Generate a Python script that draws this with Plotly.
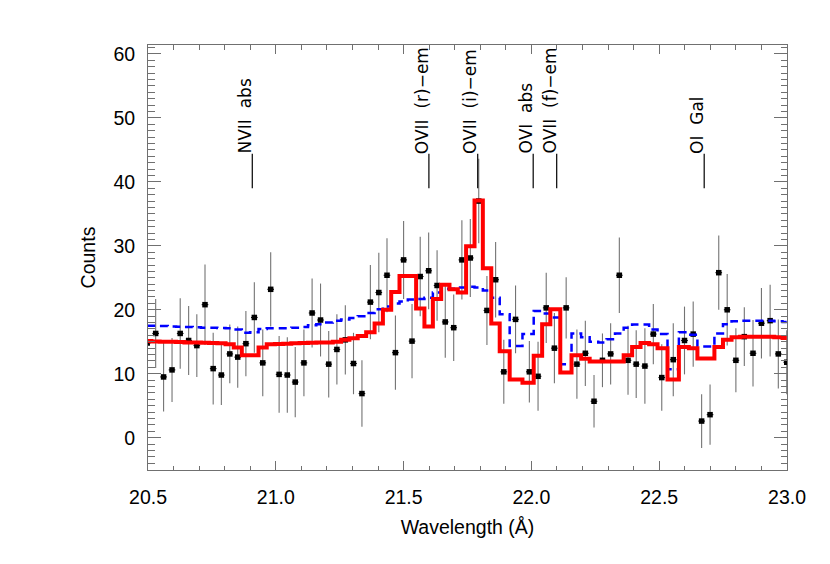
import plotly.graph_objects as go

# ---- data ----
wavelength = [20.497, 20.530, 20.561, 20.594, 20.626, 20.659, 20.691, 20.723, 20.755, 20.787,
              20.820, 20.851, 20.883, 20.916, 20.949, 20.980, 21.013, 21.045, 21.076, 21.110,
              21.142, 21.175, 21.207, 21.239, 21.272, 21.304, 21.337, 21.370, 21.403, 21.435,
              21.468, 21.500, 21.533, 21.565, 21.598, 21.631, 21.663, 21.696, 21.728, 21.761,
              21.794, 21.826, 21.860, 21.892, 21.938, 21.992, 22.026, 22.058, 22.090, 22.136,
              22.178, 22.211, 22.245, 22.278, 22.310, 22.344, 22.378, 22.410, 22.444, 22.477,
              22.510, 22.555, 22.599, 22.633, 22.666, 22.699, 22.733, 22.766, 22.800, 22.833,
              22.867, 22.900, 22.934, 22.966, 22.999]

counts = [14.8, 16.3, 9.5, 10.6, 16.3, 15.2, 14.4, 20.8, 10.8, 9.8,
          13.1, 12.6, 14.7, 18.8, 11.7, 23.2, 9.9, 9.8, 8.7, 11.7,
          19.5, 18.4, 11.5, 13.8, 15.3, 11.6, 6.9, 21.2, 22.7, 25.4,
          13.3, 27.8, 15.1, 25.2, 26.1, 23.8, 18.1, 17.2, 27.8, 28.1,
          37.0, 19.9, 24.7, 10.3, 18.5, 10.3, 9.6, 20.3, 14.0, 20.3,
          11.5, 13.2, 5.7, 12.1, 13.1, 25.4, 12.1, 11.5, 11.2, 16.2,
          9.4, 12.2, 15.2, 16.2, 2.6, 3.6, 25.8, 20.0, 12.1, 15.8,
          13.2, 17.9, 18.3, 13.1, 11.8]

count_err = [5.2, 5.4, 5.4, 5.0, 5.5, 5.4, 4.9, 6.3, 5.6, 4.7,
             4.6, 4.8, 5.1, 5.5, 5.2, 5.8, 6.0, 5.9, 5.5, 5.2,
             5.4, 5.7, 5.2, 5.5, 5.4, 4.8, 5.2, 5.8, 6.2, 5.8,
             5.8, 6.1, 5.8, 6.2, 6.0, 5.5, 5.6, 5.2, 6.2, 6.1,
             6.6, 5.4, 5.9, 5.0, 5.3, 4.8, 5.4, 5.5, 5.5, 4.8,
             5.4, 5.1, 4.1, 4.2, 4.8, 5.9, 5.4, 5.3, 5.9, 4.7,
             5.2, 5.7, 5.3, 5.1, 4.2, 4.7, 5.8, 5.6, 5.0, 4.6,
             5.2, 5.5, 5.6, 5.4, 5.0]

model_red = [15.1, 15.05, 15.0, 15.0, 14.95, 14.9, 14.9, 14.85, 14.8, 14.75,
             14.6, 14.1, 12.9, 12.9, 14.1, 14.6, 14.65, 14.7, 14.75, 14.8,
             14.85, 14.87, 14.9, 15.0, 15.3, 15.55, 15.9, 16.5, 17.85, 20.0,
             22.8, 25.3, 25.3, 20.2, 17.4, 21.7, 23.9, 23.2, 22.7, 29.95,
             37.1, 26.5, 17.85, 13.5, 9.1, 8.6, 12.8, 17.75, 20.1, 10.2,
             12.9, 12.35, 11.9, 11.9, 11.9, 11.9, 12.9, 14.2, 14.8, 14.6,
             14.0, 9.1, 14.2, 14.0, 12.4, 12.4, 14.2, 15.3, 15.7, 15.8,
             15.8, 15.8, 15.8, 15.7, 15.6]

model_blue = [17.5, 17.5, 17.45, 17.4, 17.35, 17.3, 17.25, 17.2, 17.2, 17.15,
              17.1, 16.9, 16.4, 16.5, 17.0, 17.1, 17.1, 17.1, 17.2, 17.3,
              17.6, 17.75, 18.0, 18.3, 18.5, 18.7, 19.0, 19.5, 20.1, 20.5,
              21.0, 21.3, 21.6, 21.7, 21.9, 22.7, 23.3, 23.3, 23.5, 23.6,
              23.5, 23.0, 21.9, 19.3, 14.35, 16.2, 19.8, 19.4, 18.8, 11.5,
              16.3, 15.7, 15.0, 14.9, 15.4, 16.3, 17.2, 17.7, 17.7, 16.9,
              16.2, 10.7, 16.5, 16.1, 14.25, 14.25, 16.3, 17.75, 18.2, 18.3,
              18.3, 18.3, 18.3, 18.2, 18.1]

line_wavelengths = [20.908, 21.599, 21.790, 22.007, 22.099, 22.676]
line_labels = ["NVII\u00a0 abs", "OVII\u00a0 (r)\u2212em", "OVII\u00a0 (i)\u2212em",
               "OVI\u00a0 abs", "OVII\u00a0 (f)\u2212em", "OI\u00a0 Gal"]
marker_y0, marker_y1 = 39.0, 44.4

x_ticks = [20.5, 21.0, 21.5, 22.0, 22.5, 23.0]
x_ticklabels = ["20.5", "21.0", "21.5", "22.0", "22.5", "23.0"]
y_ticks = [0, 10, 20, 30, 40, 50, 60]

# ---- figure ----
fig = go.Figure()

fig.add_trace(go.Scatter(
    x=wavelength, y=counts, mode="markers",
    marker=dict(symbol="square", size=5.5, color="black"),
    error_y=dict(type="data", array=count_err, color="rgb(115,115,115)", thickness=1.1, width=0),
    error_x=dict(type="constant", value=0.013, color="black", thickness=1, width=0),
    showlegend=False, hoverinfo="skip"))

fig.add_trace(go.Scatter(
    x=wavelength, y=model_blue, mode="lines", line_shape="hvh",
    line=dict(color="#0000ff", width=2.5, dash="8px,5px"),
    showlegend=False, hoverinfo="skip"))

fig.add_trace(go.Scatter(
    x=wavelength, y=model_red, mode="lines", line_shape="hvh",
    line=dict(color="#ff0000", width=4),
    showlegend=False, hoverinfo="skip"))

for wl, lab in zip(line_wavelengths, line_labels):
    fig.add_shape(type="line", x0=wl, x1=wl, y0=marker_y0, y1=marker_y1,
                  xref="x", yref="y", line=dict(color="black", width=1.2))
    fig.add_annotation(x=wl, y=marker_y1, xref="x", yref="y", text=lab,
                       textangle=-90, xanchor="right", yanchor="bottom",
                       showarrow=False, xshift=4, yshift=-1, borderpad=0,
                       font=dict(family="DejaVu Sans", size=17, color="black"))

axis_common = dict(showline=True, linecolor="#707070", linewidth=1, mirror="ticks",
                   ticks="inside", tickcolor="#707070", showgrid=False, zeroline=False,
                   tickfont=dict(family="Liberation Sans, Arial", size=19.5, color="black"))

fig.update_xaxes(range=[20.5, 23.0], tickvals=x_ticks, ticktext=x_ticklabels,
                 ticklen=9, tickwidth=1, ticklabelstandoff=10,
                 minor=dict(dtick=0.1, ticks="inside", ticklen=4.5, tickcolor="#707070", showgrid=False),
                 title=dict(text="Wavelength (Å)", standoff=12,
                            font=dict(family="Liberation Sans, Arial", size=19.5, color="black")),
                 **axis_common)
fig.update_yaxes(range=[-5.05, 61.4], tickvals=y_ticks,
                 ticklen=13, tickwidth=1, ticklabelstandoff=8,
                 minor=dict(dtick=1, ticks="inside", ticklen=6.5, tickcolor="#707070", showgrid=False),
                 title=dict(text="Counts", standoff=12,
                            font=dict(family="Liberation Sans, Arial", size=19.5, color="black")),
                 **axis_common)

fig.update_layout(width=830, height=564,
                  margin=dict(l=147.5, r=43, t=45, b=94, pad=0),
                  paper_bgcolor="white", plot_bgcolor="white")

fig.write_html("out.html", config={"displayModeBar": False},
               post_script="document.body.style.margin='0px';document.body.style.overflow='hidden';")
